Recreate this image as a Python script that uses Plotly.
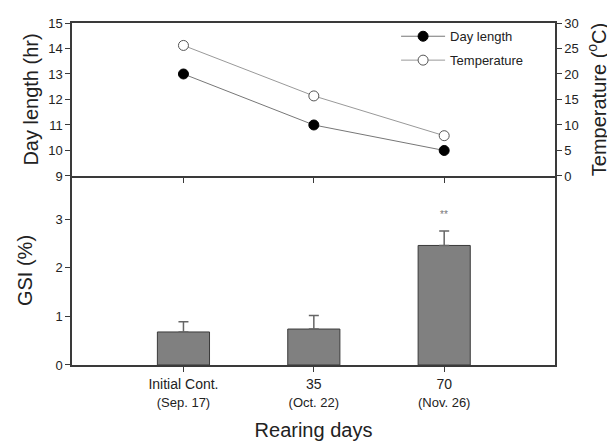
import plotly.graph_objects as go

categories = ["Initial Cont.<br><span style='font-size:13px'>(Sep. 17)</span>",
              "35<br><span style='font-size:13px'>(Oct. 22)</span>",
              "70<br><span style='font-size:13px'>(Nov. 26)</span>"]
day_length = [13.0, 11.0, 10.0]
temperature = [25.6, 15.7, 7.9]
gsi = [0.68, 0.74, 2.46]
gsi_err = [0.21, 0.28, 0.30]
sig_labels = ["", "", "**"]

FONT = "Arial, Liberation Sans, sans-serif"
AX = "#3a3a3a"
XR = [-0.855, 2.85]
SPLIT = 0.5527

fig = go.Figure()

fig.add_trace(go.Bar(
    x=categories, y=gsi, xaxis="x", yaxis="y", width=0.40,
    marker=dict(color="#808080", line=dict(color="#3a3a3a", width=1)),
    error_y=dict(type="data", array=gsi_err, arrayminus=[0, 0, 0], symmetric=False,
                 color="#666666", thickness=1.5, width=5),
    showlegend=False))

fig.add_trace(go.Scatter(
    x=categories, y=day_length, xaxis="x2", yaxis="y2", mode="lines+markers",
    name="Day length", legendgroup="a", line=dict(color="#777777", width=1),
    marker=dict(symbol="circle", size=10, color="black", line=dict(color="black", width=1))))

fig.add_trace(go.Scatter(
    x=categories, y=temperature, xaxis="x2", yaxis="y3", mode="lines+markers",
    name="Temperature", legendgroup="b", line=dict(color="#999999", width=1),
    marker=dict(symbol="circle", size=10, color="white", line=dict(color="#555555", width=1))))

for c, g, e, s in zip(categories, gsi, gsi_err, sig_labels):
    if s:
        fig.add_annotation(x=c, y=g + e, xref="x", yref="y", text=s, showarrow=False,
                           yshift=16, font=dict(size=10, color="#777777", family=FONT))

common_ax = dict(showgrid=False, zeroline=False, showline=True, linecolor=AX, linewidth=1.5,
                 ticks="outside", ticklen=5, tickcolor=AX, tickwidth=1,
                 tickfont=dict(size=13, color="#222222", family=FONT))

fig.update_layout(
    width=607, height=438,
    margin=dict(l=64, r=57, t=8, b=79),
    paper_bgcolor="white", plot_bgcolor="rgba(0,0,0,0)",
    font=dict(family=FONT, color="#222222"),
    xaxis=dict(common_ax, domain=[0, 1], anchor="y", range=XR, type="category",
               tickfont=dict(size=14, color="#222222", family=FONT),
               title=dict(text="Rearing days", font=dict(size=20, family=FONT), standoff=14)),
    yaxis=dict(common_ax, domain=[0, SPLIT], anchor="x", range=[0, 3.89], mirror=True,
               tickvals=[0, 1, 2, 3],
               title=dict(text="GSI (%)", font=dict(size=20, family=FONT), standoff=17)),
    xaxis2=dict(common_ax, domain=[0, 1], anchor="y2", range=XR, type="category",
                mirror=True, showticklabels=False),
    yaxis2=dict(common_ax, domain=[SPLIT, 1], anchor="x2", range=[9, 15],
                tickvals=[9, 10, 11, 12, 13, 14, 15],
                title=dict(text="Day length (hr)", font=dict(size=20, family=FONT), standoff=4)),
    yaxis3=dict(common_ax, domain=[SPLIT, 1], anchor="x2", overlaying="y2", side="right",
                range=[0, 30], tickvals=[0, 5, 10, 15, 20, 25, 30],
                title=dict(text="Temperature (<sup>o</sup>C)", font=dict(size=20, family=FONT), standoff=14)),
    legend=dict(x=0.671, y=1.005, xanchor="left", yanchor="top", bgcolor="rgba(0,0,0,0)",
                font=dict(size=13, family=FONT, color="#222222"), itemwidth=44,
                tracegroupgap=4),
    bargap=0.6,
)

fig.write_html("out.html")
